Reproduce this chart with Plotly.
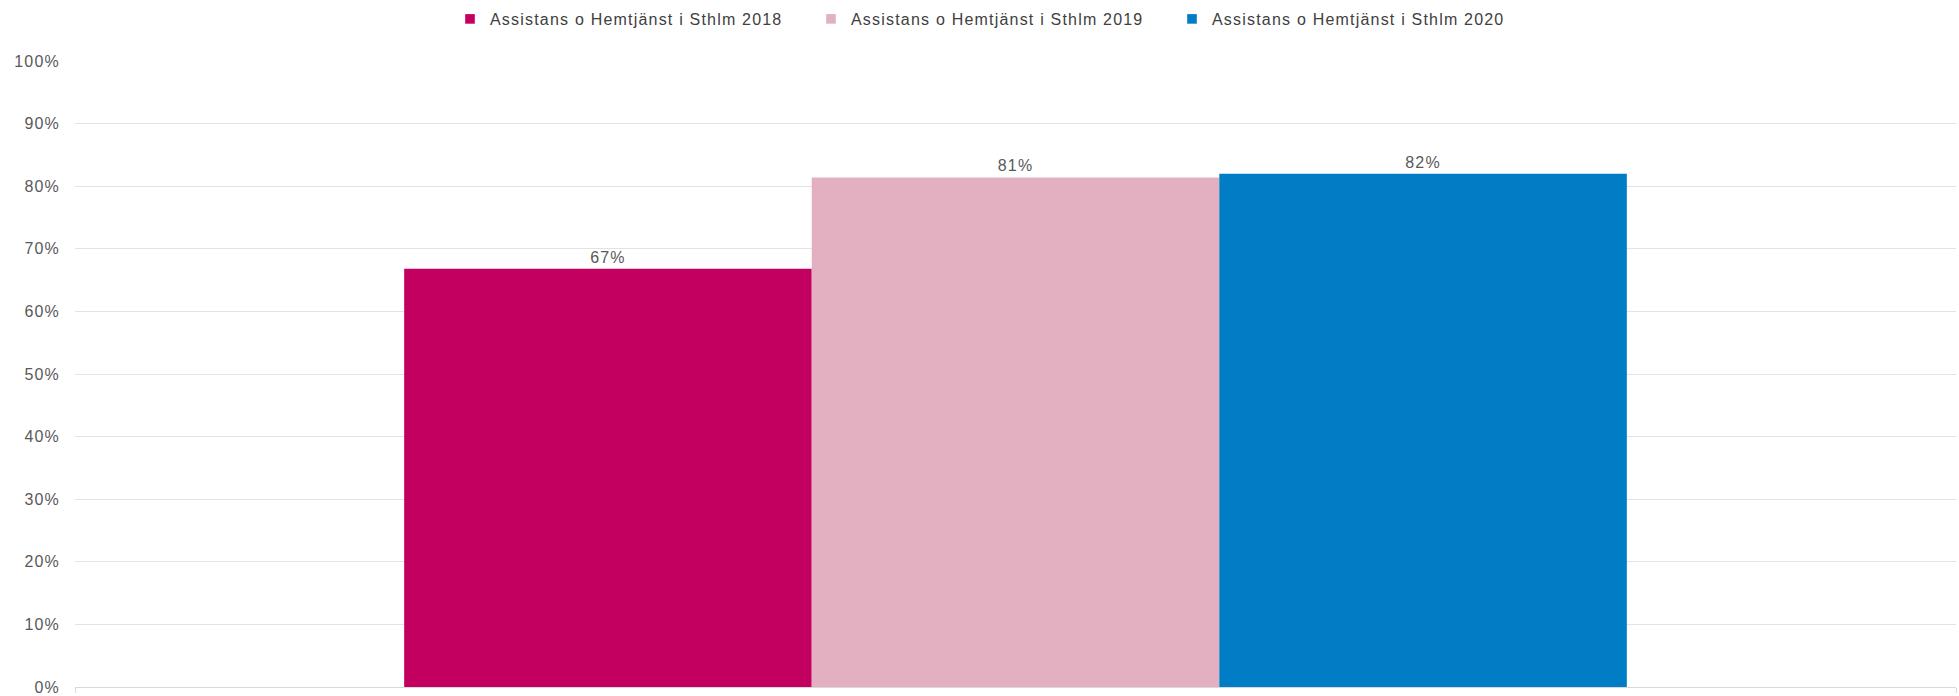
import plotly.graph_objects as go

categories = ["Total"]
series_names = [
    "Assistans o Hemtjänst i Sthlm 2018",
    "Assistans o Hemtjänst i Sthlm 2019",
    "Assistans o Hemtjänst i Sthlm 2020",
]
values_2018 = [0.668]
values_2019 = [0.814]
values_2020 = [0.820]
series_values = [values_2018, values_2019, values_2020]
colors = ["#C3005F", "#E2B0C1", "#007DC4"]
y_tick_vals = [0, 0.1, 0.2, 0.3, 0.4, 0.5, 0.6, 0.7, 0.8, 0.9, 1.0]
y_tick_text = ["0%", "10%", "20%", "30%", "40%", "50%", "60%", "70%", "80%", "90%", "100%"]

FONT = "Arial, 'Liberation Sans', sans-serif"
W, H = 1959, 696

fig = go.Figure()
for name, vals, col in zip(series_names, series_values, colors):
    fig.add_trace(go.Bar(
        x=categories, y=vals, name=name,
        marker=dict(color=col, line=dict(width=0)),
        texttemplate="%{y:.0%}", textposition="outside",
        textfont=dict(family=FONT, size=16, color="#595959"),
        cliponaxis=False,
    ))

fig.update_layout(
    width=W, height=H,
    barmode="group", bargap=0.35, bargroupgap=0,
    plot_bgcolor="white", paper_bgcolor="white",
    margin=dict(l=75, r=3, t=61, b=9, autoexpand=False),
    font=dict(family=FONT, size=16, color="#595959"),
    showlegend=True,
    legend=dict(
        orientation="h", xref="container", yref="container",
        x=450 / W, xanchor="left", y=1 - 19 / H, yanchor="middle",
        entrywidth=316, entrywidthmode="pixels",
        font=dict(family=FONT, size=16, color="#404040"),
        traceorder="normal",
        bgcolor="rgba(0,0,0,0)",
    ),
    xaxis=dict(
        showticklabels=False, showgrid=False, zeroline=False,
        showline=True, linecolor="#D9D9D9", linewidth=1,
        ticks="outside", tickson="boundaries", ticklen=5, tickcolor="#D9D9D9",
        automargin=False,
    ),
    yaxis=dict(
        range=[0, 1], tickvals=y_tick_vals, ticktext=y_tick_text,
        showgrid=True, gridcolor="#E3E3E3", gridwidth=1,
        zeroline=False, showline=False, ticks="",
        ticklabelstandoff=14, ticklabeloverflow="allow",
        tickfont=dict(family=FONT, size=16, color="#595959"),
        automargin=False,
    ),
)

post = """
document.body.style.margin = '0';
document.body.style.overflow = 'hidden';
var gd = document.getElementById('{plot_id}');
gd.querySelectorAll('text').forEach(function(t){ t.style.letterSpacing = '1.2px'; });
gd.querySelectorAll('.legend .legendpoints path').forEach(function(p){
  p.setAttribute('transform', (p.getAttribute('transform') || '') + ' scale(0.8)');
});
"""
fig.write_html("out.html", post_script=post, config={"displayModeBar": False})
